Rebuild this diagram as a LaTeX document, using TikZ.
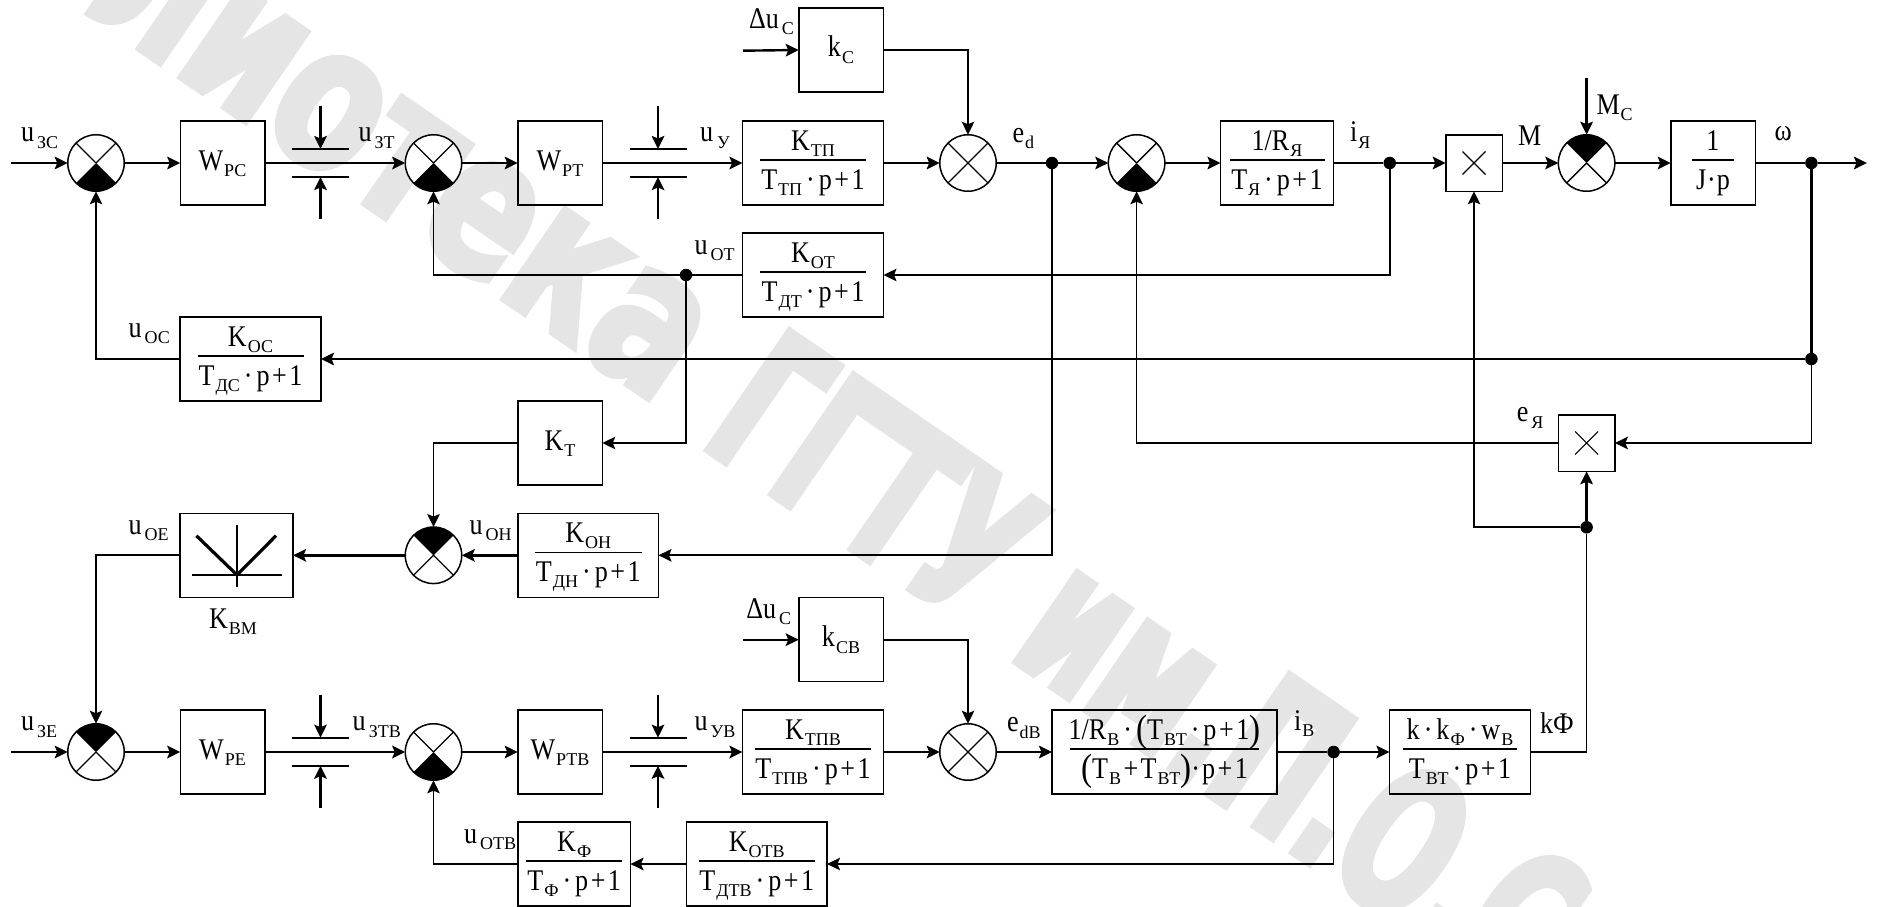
\documentclass[tikz,border=0pt]{standalone}
\usepackage{fontspec}
\setmainfont{Liberation Serif}[FakeStretch=0.87]
\newfontfamily\subf{Liberation Serif}
\newfontfamily\wma{DejaVu Sans Bold}[FakeStretch=0.74,FakeBold=3]
\newfontfamily\wmb{DejaVu Sans Bold}[FakeStretch=0.61,FakeBold=3]
\usetikzlibrary{arrows.meta}
\definecolor{wmgray}{HTML}{E5E5E5}
\newcommand{\sbs}[1]{\kern1pt\raisebox{-6.5pt}{\subf\fontsize{18}{18}\selectfont #1}}
\newcommand{\usb}[1]{\kern2pt\sbs{#1}}
\newcommand{\cen}[1]{\raisebox{-7pt}[0pt][0pt]{#1}}
\newcommand{\fr}[3]{\hbox{\hbox to #1pt{\hss\raisebox{13pt}[0pt][0pt]{#2}\hss}\kern-#1pt\hbox to #1pt{\hss\raisebox{-26pt}[0pt][0pt]{#3}\hss}\kern-#1pt\raisebox{2.3pt}[0pt][0pt]{\rule{#1pt}{1.4pt}}}}
\newcommand{\dotp}{\kern4pt·\kern4pt}
\newcommand{\pls}{\kern2.5pt+\kern2.5pt}
\newcommand{\bigp}[1]{{\fontsize{38}{38}\selectfont\raisebox{-2pt}{#1}}}
\tikzset{
  every node/.style={font=\fontsize{30}{30}\selectfont,inner sep=0pt,outer sep=0pt},
  blk/.style={draw,line width=1.5pt,minimum width=84.5pt,minimum height=84pt,inner sep=0pt},
  mul/.style={draw,line width=1.5pt,minimum width=56.5pt,minimum height=56.5pt,inner sep=0pt,
    path picture={\draw[line width=1.1pt] ([shift={(-11.5,-11.5)}]path picture bounding box.center)--([shift={(11.5,11.5)}]path picture bounding box.center)
      ([shift={(-11.5,11.5)}]path picture bounding box.center)--([shift={(11.5,-11.5)}]path picture bounding box.center);}},
  sumx/.style={circle,draw,fill=white,line width=1.5pt,minimum size=56.5pt,inner sep=0pt,
    path picture={\draw[black,line width=1.3pt] ([shift={(-40,-40)}]path picture bounding box.center)--([shift={(40,40)}]path picture bounding box.center)
      ([shift={(-40,40)}]path picture bounding box.center)--([shift={(40,-40)}]path picture bounding box.center);}},
  sumb/.style={sumx,
    path picture={\fill[black] (path picture bounding box.center)--+(-40,40)--+(40,40)--cycle;
      \draw[black,line width=1.3pt] (path picture bounding box.center)--+(-40,-40) (path picture bounding box.center)--+(40,-40);}},
  sumt/.style={sumx,
    path picture={\fill[black] (path picture bounding box.center)--+(-40,-40)--+(40,-40)--cycle;
      \draw[black,line width=1.3pt] (path picture bounding box.center)--+(-40,40) (path picture bounding box.center)--+(40,40);}},
  jun/.style={circle,fill=black,minimum size=12.5pt,inner sep=0pt},
  lab/.style={anchor=base west,inner sep=0pt},
  thk/.style={line width=2.4pt},
  thn/.style={line width=1.7pt},
  arr/.style={-{Stealth[length=13pt,width=12.5pt,inset=2.5pt]}},
  wmark/.style={rotate=-34.5,anchor=base west,text=wmgray},
}
\newcommand{\capa}[3]{%
  \coordinate (#1tl) at (#2-28.5,#3-14); \coordinate (#1tr) at (#2+28.5,#3-14);
  \coordinate (#1bl) at (#2-28.5,#3+14); \coordinate (#1br) at (#2+28.5,#3+14);
  \coordinate (#1ts) at (#2,#3-57); \coordinate (#1te) at (#2,#3-14);
  \coordinate (#1bs) at (#2,#3+56); \coordinate (#1be) at (#2,#3+14);
  \draw[thk] (#1tl)--(#1tr); \draw[thk] (#1bl)--(#1br);
  \draw[thk,arr] (#1ts)--(#1te); \draw[thk,arr] (#1bs)--(#1be);}
\begin{document}
\begin{tikzpicture}[x=1pt,y=-1pt]
\useasboundingbox (0,0) rectangle (1879,907);
\begin{scope}
\clip (0,0) rectangle (1879,907);
\node[wmark,font=\wma\fontsize{200}{200}\selectfont] (wm1) at (81,9) {лиотека};
\node[wmark,font=\wmb\fontsize{200}{200}\selectfont] (wm2) at (697.7,444) {ГГТУ им.П.О.С};
\end{scope}

% row 1
\node[sumb] (s1) at (96,163) {};
\node[blk] (wpc) at (222.5,163) {\cen{W\sbs{РС}}};
\node[sumb] (s2) at (433.5,163) {};
\node[blk] (wpt) at (560,163) {\cen{W\sbs{РТ}}};
\node[blk,minimum width=141pt] (ktp) at (813,163) {\fr{106}{K\sbs{ТП}}{T\sbs{ТП}\dotp p\pls 1}};
\node[blk] (kc) at (841,50) {\cen{k\sbs{С}}};
\node[sumx] (s3) at (968,163) {};
\node[jun] (jed) at (1052,163) {};
\node[sumb] (s4) at (1136.6,163) {};
\node[blk,minimum width=113pt] (rya) at (1277,163) {\fr{95}{1/R\sbs{Я}}{T\sbs{Я}\dotp p\pls 1}};
\node[jun] (jia) at (1389.7,163) {};
\node[mul] (m1) at (1474,163) {};
\node[sumt] (s5) at (1586.6,163) {};
\node[blk] (jp) at (1713,163) {\fr{42}{1}{J\kern1pt·\kern1pt p}};
\node[jun] (jw) at (1811.4,163) {};
\coordinate (out) at (1867,163);
\coordinate (in1) at (11,163);
\coordinate (in2) at (743,50.7);
\coordinate (mc) at (1586.6,78);
% row 2, 3
\node[blk,minimum width=141pt] (kot) at (813,275) {\fr{106}{K\sbs{ОТ}}{T\sbs{ДТ}\dotp p\pls 1}};
\node[jun] (jot) at (686,275) {};
\node[blk,minimum width=141pt] (koc) at (250.5,359) {\fr{106}{K\sbs{ОС}}{T\sbs{ДС}\dotp p\pls 1}};
\node[jun] (jw2) at (1811.4,359) {};
\node[blk] (kt) at (560,443) {\cen{K\sbs{Т}}};
\node[mul] (m2) at (1586.6,443) {};
\node[sumt] (s6) at (433.5,555.3) {};
\node[blk,minimum width=140.5pt] (koh) at (588.25,555.3) {\fr{107}{K\sbs{ОН}}{T\sbs{ДН}\dotp p\pls 1}};
\node[blk,minimum width=113pt] (kvm) at (236.5,555.3) {};
\node[jun] (jf) at (1586.6,527.3) {};
% row bottom
\node[sumt] (s7) at (96,752) {};
\node[blk] (wpe) at (222.5,752) {\cen{W\sbs{РЕ}}};
\node[sumb] (s8) at (433.5,752) {};
\node[blk] (wptb) at (560,752) {\cen{W\sbs{РТВ}}};
\node[blk,minimum width=141pt] (ktpb) at (813,752) {\fr{116.5}{K\sbs{ТПВ}}{T\sbs{ТПВ}\dotp p\pls 1}};
\node[blk] (kcb) at (841,639.7) {\cen{k\sbs{СВ}}};
\node[sumx] (s9) at (968,752) {};
\node[blk,minimum width=225pt] (rb) at (1164.5,752) {\fr{189}{1/R\sbs{В}\dotp\bigp{(}T\sbs{ВТ}\dotp p\pls 1\bigp{)}}{\bigp{(}T\sbs{В}\pls T\sbs{ВТ}\bigp{)}·\kern2pt p\pls 1}};
\node[jun] (jib) at (1333.6,752) {};
\node[blk,minimum width=141pt] (kk) at (1460,752) {\fr{114.5}{k\dotp k\sbs{Ф}\dotp w\sbs{В}}{T\sbs{ВТ}\dotp p\pls 1}};
\node[blk,minimum width=112.4pt] (kf) at (574.2,864) {\fr{95.5}{K\sbs{Ф}}{T\sbs{Ф}\dotp p\pls 1}};
\node[blk,minimum width=140.4pt] (kotb) at (756.8,864) {\fr{116.5}{K\sbs{ОТВ}}{T\sbs{ДТВ}\dotp p\pls 1}};
\coordinate (in3) at (11,752);
\coordinate (in4) at (743,639.7);

% caps
\capa{ca}{320.5}{163}
\capa{cb}{658}{163}
\capa{cc}{320.5}{751.7}
\capa{cd}{658}{751.7}

% KVM symbol
\coordinate (va) at (237,525); \coordinate (vb) at (237,586.7);
\coordinate (ha) at (192,575); \coordinate (hb) at (282,575);
\coordinate (la) at (196.4,535.7); \coordinate (lb) at (276,535.7); \coordinate (lc) at (237,575);
\draw[thn] (va)--(vb);
\draw[thk] (ha)--(hb);
\draw[line width=3.2pt,line join=miter] (la)--(lc)--(lb);

% forward row 1
\draw[thk,arr] (in1)--(s1.west);
\draw[thk,arr] (s1.east)--(wpc.west);
\draw[thk,arr] (wpc.east)--(s2.west);
\draw[thk,arr] (s2.east)--(wpt.west);
\draw[thk,arr] (wpt.east)--(ktp.west);
\draw[thk,arr] (ktp.east)--(s3.west);
\draw[thk] (s3.east)--(jed);
\draw[thk,arr] (jed)--(s4.west);
\draw[thk,arr] (s4.east)--(rya.west);
\draw[thk] (rya.east)--(jia);
\draw[thk,arr] (jia)--(m1.west);
\draw[thk,arr] (m1.east)--(s5.west);
\draw[thk,arr] (s5.east)--(jp.west);
\draw[thk] (jp.east)--(jw);
\draw[thk,arr] (jw)--(out);
\draw[thk,arr] (mc)--(s5.north);
\draw[thk,arr] (in2)--(kc.west);
\draw[thn,arr] (kc.east)-|(s3.north);
% feedback
\draw[thk] (jw)--(jw2);
\draw[thk,arr] (jw2)--(koc.east);
\draw[thn,arr] (koc.west)-|(s1.south);
\draw[thn,arr] (jia)|-(kot.east);
\draw[thk] (kot.west)--(jot);
\draw[thn,arr] (jot)-|(s2.south);
\draw[thn,arr] (jot)|-(kt.east);
\draw[thn,arr] (kt.west)-|(s6.north);
\draw[thn,arr] (jed)|-(koh.east);
\draw[thk,arr] (koh.west)--(s6.east);
\draw[thk,arr] (s6.west)--(kvm.east);
\draw[thn,arr] (kvm.west)-|(s7.north);
\draw[thn,arr] (jw2)|-(m2.east);
\draw[thn,arr] (m2.west)-|(s4.south);
\draw[thk,arr] (jf)--(m2.south);
\draw[thn,arr] (jf)-|(m1.south);
\draw[thn] (kk.east)-|(jf);
% bottom row
\draw[thk,arr] (in3)--(s7.west);
\draw[thk,arr] (s7.east)--(wpe.west);
\draw[thk,arr] (wpe.east)--(s8.west);
\draw[thk,arr] (s8.east)--(wptb.west);
\draw[thk,arr] (wptb.east)--(ktpb.west);
\draw[thk,arr] (ktpb.east)--(s9.west);
\draw[thk,arr] (s9.east)--(rb.west);
\draw[thk] (rb.east)--(jib);
\draw[thk,arr] (jib)--(kk.west);
\draw[thk,arr] (in4)--(kcb.west);
\draw[thn,arr] (kcb.east)-|(s9.north);
\draw[thn,arr] (jib)|-(kotb.east);
\draw[thk,arr] (kotb.west)--(kf.east);
\draw[thn,arr] (kf.west)-|(s8.south);

% labels
\node[lab] (l1) at (21,141.7) {u\usb{ЗС}};
\node[lab] (l2) at (358.5,141.7) {u\usb{ЗТ}};
\node[lab] (l3) at (700,141.7) {u\usb{\kern1pt У}};
\node[lab] (l4) at (694.6,254) {u\usb{ОТ}};
\node[lab] (l5) at (128.6,337.3) {u\usb{ОС}};
\node[lab] (l6) at (749,28.3) {Δu\usb{С}};
\node[lab] (l7) at (1012.5,142.3) {e\sbs{d}};
\node[lab] (l8) at (1350,141.7) {i\sbs{Я}};
\node[lab] (l9) at (1518,145) {M};
\node[lab] (l10) at (1596.5,114) {M\sbs{С}};
\node[lab] (l11) at (1774.5,140) {ω};
\node[lab] (l12) at (1516.8,421.7) {e\usb{Я}};
\node[lab] (l13) at (128.6,534) {u\usb{ОЕ}};
\node[lab] (l14) at (469.6,534) {u\usb{ОН}};
\node[lab] (l15) at (209,628) {K\sbs{ВМ}};
\node[lab] (l16) at (21,730.7) {u\usb{ЗЕ}};
\node[lab] (l17) at (352.7,730.7) {u\usb{ЗТВ}};
\node[lab] (l18) at (694.6,730.7) {u\usb{УВ}};
\node[lab] (l19) at (464,843) {u\usb{ОТВ}};
\node[lab] (l20) at (746.4,618.3) {Δu\usb{С}};
\node[lab] (l21) at (1007,731.7) {e\sbs{dВ}};
\node[lab] (l22) at (1294,730) {i\sbs{В}};
\node[lab] (l23) at (1540,733) {kФ};
\end{tikzpicture}
\end{document}
